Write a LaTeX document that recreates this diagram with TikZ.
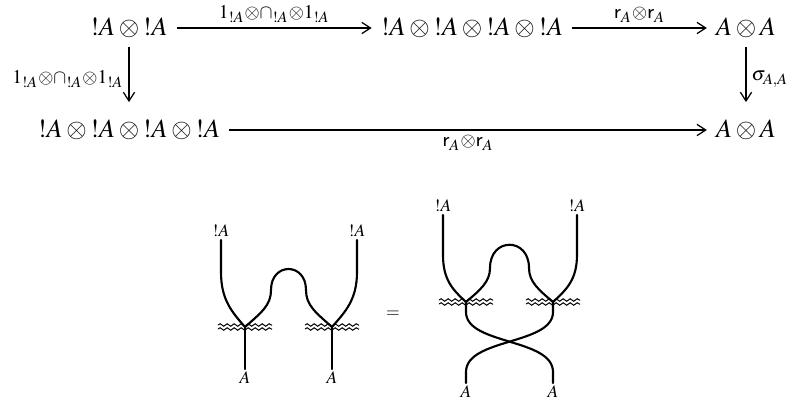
\documentclass[tikz,border=0pt]{standalone}
\usepackage{mathptmx}
\usetikzlibrary{arrows.meta,decorations.pathmorphing}
\newcommand{\bangop}{{!}}

\begin{document}
\begin{tikzpicture}[x=0.4pt,y=-0.4pt,
  font=\fontsize{10.5}{12.6}\selectfont,
  obj/.style={inner sep=3.5pt},
  maplabel/.style={inner sep=2pt},
  map/.style={line width=0.5pt,-{Straight Barb[length=3.5pt,width=4.5pt]}},
  downmap/.style={map, shorten >=3.5pt},
  wire/.style={line width=0.85pt, line cap=round},
  wiggle/.style={line width=0.4pt, decorate,
    decoration={snake,segment length=2.8pt,amplitude=0.5pt}},
  wirelabel/.style={font=\scriptsize, inner sep=1pt}
]
\useasboundingbox (0,0) rectangle (794,401);
% square
\node[obj] (tl) at (129,28) {$\bangop A\otimes \bangop A$};
\node[obj] (tm) at (472,28) {$\bangop A\otimes \bangop A\otimes \bangop A\otimes \bangop A$};
\node[obj] (tr) at (746,28) {$A\otimes A$};
\node[obj] (bl) at (129,130) {$\bangop A\otimes \bangop A\otimes \bangop A\otimes \bangop A$};
\node[obj] (br) at (746,130) {$A\otimes A$};
\draw[map] (tl) -- (tm) node[maplabel,above,midway]
  {$\scriptstyle 1_{\bangop A}\otimes\cap_{\bangop A}\otimes 1_{\bangop A}$};
\draw[map] (tm) -- (tr) node[maplabel,above,midway] {$\scriptstyle\mathsf{r}_A\otimes\mathsf{r}_A$};
\draw[downmap] (tl) -- (bl) node[maplabel,left,midway]
  {$\scriptstyle 1_{\bangop A}\otimes\cap_{\bangop A}\otimes 1_{\bangop A}$};
\draw[downmap] (tr) -- (br) node[maplabel,right,midway] {$\scriptstyle\sigma_{A,A}$};
\draw[map] (bl) -- (br) node[maplabel,below,midway] {$\scriptstyle\mathsf{r}_A\otimes\mathsf{r}_A$};

% left string diagram
\node[wirelabel] (inLa) at (221,231) {$\bangop A$};
\node[wirelabel] (inLb) at (357,231) {$\bangop A$};
\node[wirelabel] (outLa) at (245,378) {$A$};
\node[wirelabel] (outLb) at (332,378) {$A$};
\coordinate (jLa) at (245,327);
\coordinate (jLb) at (332,327);
\draw[wire] (inLa.south) -- (221,272) .. controls (221,300) and (232,312) .. (jLa);
\draw[wire] (inLb.south) -- (357,272) .. controls (357,300) and (345,312) .. (jLb);
\draw[wire] (jLa) .. controls (262,312) and (271,305) .. (271,290)
  .. controls (271,262) and (306,262) .. (306,290)
  .. controls (306,305) and (315,312) .. (jLb);
\draw[wire] (jLa) -- (outLa.north);
\draw[wire] (jLb) -- (outLb.north);
\draw[wiggle] (218,325) -- (272,325);
\draw[wiggle] (218,329) -- (272,329);
\draw[wiggle] (305,325) -- (359,325);
\draw[wiggle] (305,329) -- (359,329);

\node (eq) at (393,314) {\scriptsize$=$};

% right string diagram
\node[wirelabel] (inRa) at (443,206) {$\bangop A$};
\node[wirelabel] (inRb) at (577,206) {$\bangop A$};
\node[wirelabel] (outRa) at (466,392) {$A$};
\node[wirelabel] (outRb) at (553,392) {$A$};
\coordinate (jRa) at (466,302);
\coordinate (jRb) at (553,302);
\draw[wire] (inRa.south) -- (443,255) .. controls (443,280) and (453,290) .. (jRa);
\draw[wire] (inRb.south) -- (577,255) .. controls (577,280) and (566,290) .. (jRb);
\draw[wire] (jRa) .. controls (480,290) and (490,282) .. (490,268)
  .. controls (490,237) and (529,237) .. (529,268)
  .. controls (529,282) and (539,290) .. (jRb);
\draw[wire] (jRa) -- (466,312) .. controls (466,345) and (553,338) .. (553,372) -- (outRb.north);
\draw[wire] (jRb) -- (553,312) .. controls (553,345) and (466,338) .. (466,372) -- (outRa.north);
\draw[wiggle] (439,300) -- (493,300);
\draw[wiggle] (439,304) -- (493,304);
\draw[wiggle] (526,300) -- (580,300);
\draw[wiggle] (526,304) -- (580,304);
\end{tikzpicture}
\end{document}
